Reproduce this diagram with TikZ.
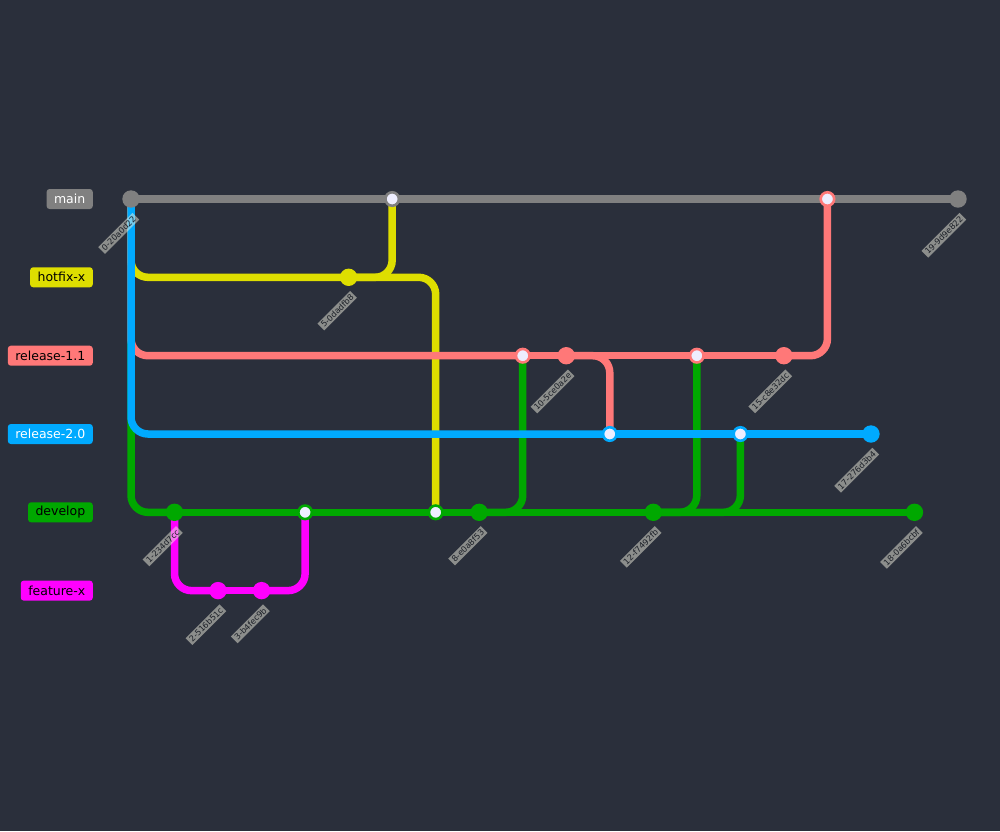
\documentclass[tikz,border=0pt]{standalone}
\usepackage{fontspec}
\setmainfont{DejaVu Sans}
\usetikzlibrary{calc}
\definecolor{bg}{HTML}{2A2F3B}
\definecolor{cmain}{HTML}{808080}
\definecolor{chot}{HTML}{DEDE00}
\definecolor{crel}{HTML}{FF7878}
\definecolor{cblue}{HTML}{00AAFF}
\definecolor{cdev}{HTML}{00A800}
\definecolor{cfeat}{HTML}{FF00FF}
\definecolor{mergefill}{HTML}{EEEEFF}
\definecolor{labbg}{HTML}{EEEEDD}
\definecolor{labtext}{HTML}{1A1E26}
\tikzset{
  br/.style={line width=7.5pt, rounded corners=17pt},
  commit/.style={circle, inner sep=0pt, minimum size=17.4pt, fill=#1},
  mergeo/.style={circle, inner sep=0pt, minimum size=13.5pt, fill=mergefill, draw=#1, line width=2.6pt},
  blabel/.style={anchor=east, rounded corners=3pt, minimum height=20pt, inner xsep=7.5pt, inner ysep=0pt, font=\fontsize{12.5}{14}\selectfont, fill=#1},
  clabel/.style={anchor=east, rotate=45, fill=labbg, fill opacity=0.5, text opacity=1, text=labtext, inner xsep=2pt, inner ysep=1.6pt, font=\fontsize{8.2}{9}\selectfont}
}
\begin{document}
\begin{tikzpicture}[x=1pt,y=-1pt]
\fill[bg] (0,0) rectangle (1000,831);
\useasboundingbox (0,0) rectangle (1000,831);
% coordinates
\foreach \i/\y in {0/199,1/512.3,2/590.6,3/590.6,4/512.3,5/277.3,6/199,7/512.3,8/512.3,9/355.7,10/355.7,11/434,12/512.3,13/355.7,14/434,15/355.7,16/199,17/434,18/512.3,19/199}{
  \coordinate (c\i) at ({131+43.526*\i},\y);
}
% branch labels
\node[blabel=cmain, text=white] (lmain) at (93,199) {main};
\node[blabel=chot, text=black] (lhot) at (93,277.3) {hotfix-x};
\node[blabel=crel, text=black] (lrel) at (93,355.7) {release-1.1};
\node[blabel=cblue, text=white] (lblue) at (93,434) {release-2.0};
\node[blabel=cdev, text=black] (ldev) at (93,512.3) {develop};
\node[blabel=cfeat, text=black] (lfeat) at (93,590.6) {feature-x};
% connectors in drawing order
\draw[br, cdev] (c0) |- (c1);
\draw[br, cfeat] (c1) |- (c2);
\draw[br, cfeat] (c2) -- (c3);
\draw[br, cdev] (c1) -- (c4);
\draw[br, cfeat] (c3) -| (c4);
\draw[br, chot] (c0) |- (c5);
\draw[br, cmain] (c0) -- (c6);
\draw[br, chot] (c5) -| (c6);
\draw[br, cdev] (c4) -- (c7);
\draw[br, chot] (c5) -| (c7);
\draw[br, cdev] (c7) -- (c8);
\draw[br, crel] (c0) |- (c9);
\draw[br, cdev] (c8) -| (c9);
\draw[br, crel] (c9) -- (c10);
\draw[br, cblue] (c0) |- (c11);
\draw[br, crel] (c10) -| (c11);
\draw[br, cdev] (c8) -- (c12);
\draw[br, crel] (c10) -- (c13);
\draw[br, cdev] (c12) -| (c13);
\draw[br, cblue] (c11) -- (c14);
\draw[br, cdev] (c12) -| (c14);
\draw[br, crel] (c13) -- (c15);
\draw[br, cmain] (c6) -- (c16);
\draw[br, crel] (c15) -| (c16);
\draw[br, cblue] (c14) -- (c17);
\draw[br, cdev] (c12) -- (c18);
\draw[br, cmain] (c16) -- (c19);
% commits
\node[commit=cmain] (n0) at (c0) {};
\node[commit=cdev] (n1) at (c1) {};
\node[commit=cfeat] (n2) at (c2) {};
\node[commit=cfeat] (n3) at (c3) {};
\node[mergeo=cdev] (n4) at (c4) {};
\node[commit=chot] (n5) at (c5) {};
\node[mergeo=cmain] (n6) at (c6) {};
\node[mergeo=cdev] (n7) at (c7) {};
\node[commit=cdev] (n8) at (c8) {};
\node[mergeo=crel] (n9) at (c9) {};
\node[commit=crel] (n10) at (c10) {};
\node[mergeo=cblue] (n11) at (c11) {};
\node[commit=cdev] (n12) at (c12) {};
\node[mergeo=crel] (n13) at (c13) {};
\node[mergeo=cblue] (n14) at (c14) {};
\node[commit=crel] (n15) at (c15) {};
\node[mergeo=crel] (n16) at (c16) {};
\node[commit=cblue] (n17) at (c17) {};
\node[commit=cdev] (n18) at (c18) {};
\node[commit=cmain] (n19) at (c19) {};
% commit labels
\foreach \i/\t in {0/0-20a0d22,1/1-234d7cc,2/2-516b51c,3/3-b4fec9b,5/5-0dadfb8,8/8-e0a8f53,10/10-5ce0a2e,12/12-f7492fb,15/15-c8e32dc,17/17-276d3b4,18/18-0a6bcbf,19/19-9d9e822}{
  \node[clabel] (t\i) at ($(c\i)+(5,17)$) {\t};
}
\end{tikzpicture}
\end{document}
